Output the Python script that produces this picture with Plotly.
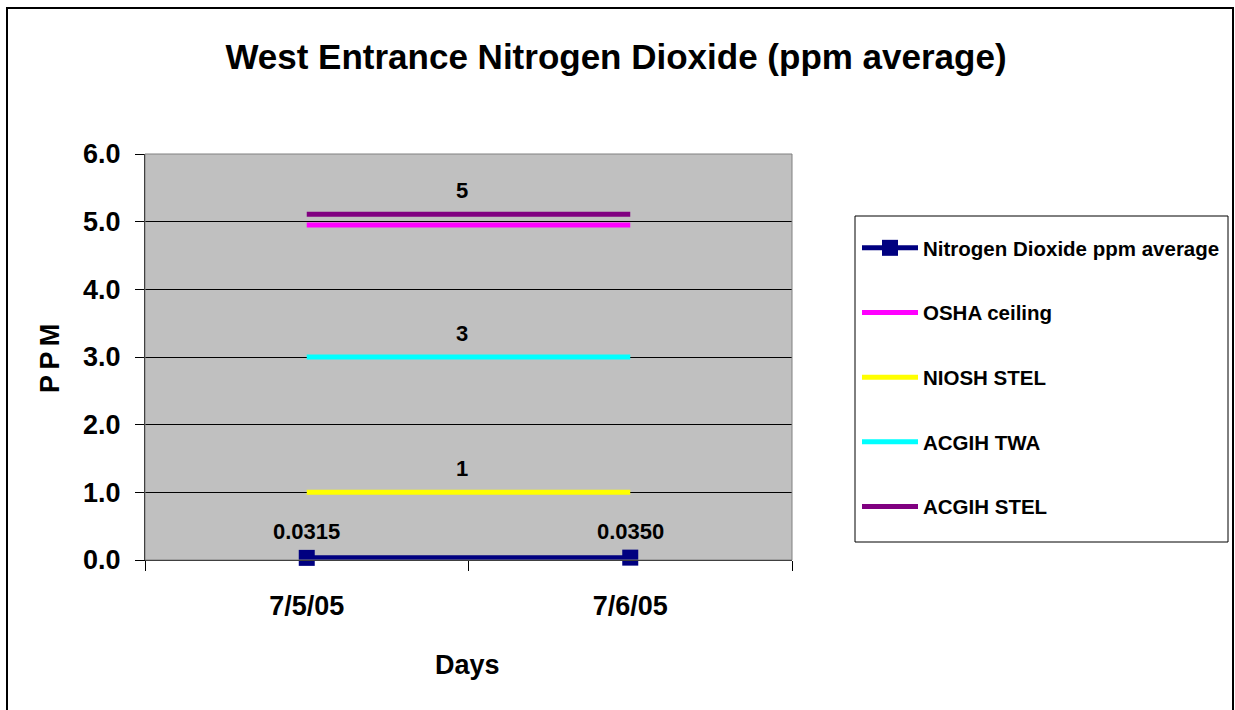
import plotly.graph_objects as go

# ---- data ----
days = ["7/5/05", "7/6/05"]
no2_avg = [0.0315, 0.0350]
no2_labels = ["0.0315", "0.0350"]
osha_ceiling = [4.95, 4.95]
niosh_stel = [1.0, 1.0]
acgih_twa = [3.0, 3.0]
acgih_stel = [5.11, 5.11]
threshold_labels = {"NIOSH STEL": "1", "ACGIH TWA": "3", "ACGIH STEL": "5"}
yticks = [0, 1, 2, 3, 4, 5, 6]
ytick_text = ["0.0", "1.0", "2.0", "3.0", "4.0", "5.0", "6.0"]

FONT = "Liberation Sans, Arial, sans-serif"
W, H = 1235, 710
L, R, T, B = 145, 443, 154, 150
PW, PH = W - L - R, H - T - B

def px(x):
    return (x - L) / PW

def py(y):
    return (H - B - y) / PH

fig = go.Figure()

common = dict(cliponaxis=False)
fig.add_trace(go.Scatter(
    x=days, y=no2_avg, name="<b>Nitrogen Dioxide ppm average</b>", mode="lines+markers",
    line=dict(color="#000080", width=5), marker=dict(symbol="square", size=16, color="#000080"),
    legendgroup="a", **common))
fig.add_trace(go.Scatter(
    x=days, y=osha_ceiling, name="<b>OSHA ceiling</b>", mode="lines",
    line=dict(color="#FF00FF", width=5), legendgroup="b", **common))
fig.add_trace(go.Scatter(
    x=days, y=niosh_stel, name="<b>NIOSH STEL</b>", mode="lines",
    line=dict(color="#FFFF00", width=5), legendgroup="c", **common))
fig.add_trace(go.Scatter(
    x=days, y=acgih_twa, name="<b>ACGIH TWA</b>", mode="lines",
    line=dict(color="#00FFFF", width=5), legendgroup="d", **common))
fig.add_trace(go.Scatter(
    x=days, y=acgih_stel, name="<b>ACGIH STEL</b>", mode="lines",
    line=dict(color="#800080", width=5), legendgroup="e", **common))

annotations = []
# data labels for NO2
for i, (d, v) in enumerate(zip(days, no2_avg)):
    annotations.append(dict(x=i, y=v, xref="x", yref="y", text="<b>" + no2_labels[i] + "</b>",
                            showarrow=False, yshift=26, font=dict(family=FONT, size=22, color="black")))
# threshold labels in the middle
for vals, key in [(niosh_stel, "NIOSH STEL"), (acgih_twa, "ACGIH TWA"), (acgih_stel, "ACGIH STEL")]:
    annotations.append(dict(x=0.48, y=vals[0], xref="x", yref="y", text="<b>" + threshold_labels[key] + "</b>",
                            showarrow=False, yshift=24, font=dict(family=FONT, size=22, color="black")))
# axis titles
annotations.append(dict(x=px(50), y=py(359), xref="paper", yref="paper",
                        text="<b>P\u2009P\u2009M</b>", xanchor="center", yanchor="middle",
                        textangle=-90, showarrow=False, font=dict(family=FONT, size=27, color="black")))
annotations.append(dict(x=px(467), y=py(665), xref="paper", yref="paper", text="<b>Days</b>",
                        xanchor="center", yanchor="middle",
                        showarrow=False, font=dict(family=FONT, size=27, color="black")))

shapes = [
    # plot area border (gray)
    dict(type="rect", xref="paper", yref="paper", x0=0, x1=1, y0=0, y1=1,
         line=dict(color="#808080", width=1), layer="above"),
    # legend box
    dict(type="rect", xref="paper", yref="paper", x0=px(855), x1=px(1228), y0=py(542), y1=py(216),
         line=dict(color="black", width=1), layer="above"),
    # outer chart border
    dict(type="rect", xref="paper", yref="paper", x0=px(7), x1=px(1233), y0=py(720), y1=py(8),
         line=dict(color="black", width=2), layer="above"),
]

fig.update_layout(
    width=W, height=H,
    margin=dict(l=L, r=R, t=T, b=B, autoexpand=False),
    paper_bgcolor="white", plot_bgcolor="#C0C0C0",
    font=dict(family=FONT, color="black"),
    title=dict(text="<b>West Entrance Nitrogen Dioxide (ppm average)</b>",
               x=616 / W, xanchor="center", y=1 - 57 / H, yanchor="middle",
               font=dict(family=FONT, size=35, color="black")),
    showlegend=True,
    legend=dict(x=px(857), y=py(228), xanchor="left", yanchor="top",
                borderwidth=0, bgcolor="rgba(0,0,0,0)",
                font=dict(family=FONT, size=20.5, color="black"),
                tracegroupgap=35, itemwidth=56),
    annotations=annotations,
    shapes=shapes,
)

fig.update_xaxes(type="category", range=[-0.5, 1.5], tickson="boundaries",
                 ticks="outside", ticklen=10, tickcolor="black", tickwidth=1,
                 showline=True, linecolor="black", linewidth=1, showgrid=False,
                 tickfont=dict(family=FONT, size=27, color="black"),
                 ticktext=["<b>" + d + "</b>" for d in days], tickvals=days,
                 ticklabelstandoff=22)
fig.update_yaxes(range=[0, 6], tickvals=yticks, ticktext=["<b>" + t + "</b>" for t in ytick_text],
                 ticks="outside", ticklen=9, tickcolor="black", tickwidth=1,
                 showline=True, linecolor="black", linewidth=1,
                 showgrid=True, gridcolor="black", gridwidth=1, zeroline=False,
                 tickfont=dict(family=FONT, size=27, color="black"),
                 ticklabelstandoff=9)

fig.write_html("out.html")
